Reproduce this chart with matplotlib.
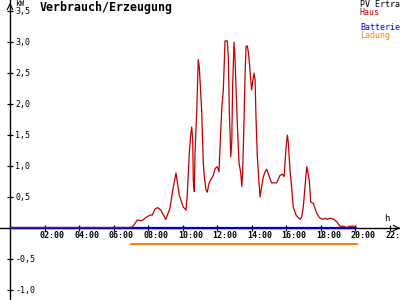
import matplotlib
matplotlib.use('Agg')
import matplotlib.pyplot as plt

# Hausverbrauch (kW) ueber die Uhrzeit (h)
haus_zeit = [0.0, 6.9, 7.10, 7.37, 7.63, 7.87, 8.11, 8.24, 8.40, 8.55, 8.73, 9.02, 9.26,
             9.42, 9.61, 9.80, 10.03, 10.19, 10.26, 10.38, 10.46, 10.52, 10.58, 10.61,
             10.67, 10.71, 10.81, 10.87, 10.90, 10.96, 11.00, 11.10, 11.19, 11.25, 11.35,
             11.42, 11.52, 11.64, 11.77, 11.87, 12.00, 12.10, 12.16, 12.26, 12.35, 12.45,
             12.58, 12.64, 12.70, 12.74, 12.78, 12.84, 12.89, 12.97, 13.03, 13.09, 13.16,
             13.26, 13.36, 13.42, 13.47, 13.55, 13.61, 13.67, 13.74, 13.80, 13.86, 13.94,
             13.99, 14.05, 14.13, 14.19, 14.24, 14.32, 14.42, 14.48, 14.57, 14.67, 14.77,
             14.86, 15.01, 15.15, 15.44, 15.63, 15.77, 15.87, 15.98, 16.06, 16.11, 16.21,
             16.31, 16.40, 16.56, 16.79, 16.89, 16.98, 17.08, 17.18, 17.24, 17.33, 17.41,
             17.56, 17.66, 17.76, 17.91, 18.11, 18.24, 18.37, 18.53, 18.76, 18.92, 19.11,
             19.30, 19.50, 19.65, 19.98, 20.09]
haus = [0.01, 0.01, 0.02, 0.13, 0.12, 0.17, 0.21, 0.21, 0.31, 0.33, 0.29, 0.14, 0.32,
        0.61, 0.89, 0.53, 0.34, 0.29, 0.53, 1.21, 1.50, 1.63, 1.42, 0.77,
        0.59, 1.21, 1.88, 2.44, 2.72, 2.60, 2.39, 1.88, 1.04, 0.83, 0.61,
        0.58, 0.72, 0.79, 0.85, 0.96, 0.99, 0.91, 1.31, 1.93, 2.23, 3.02,
        3.02, 2.74, 1.85, 1.53, 1.15, 1.40, 2.30, 3.00, 2.71, 2.23, 1.69,
        1.05, 0.89, 0.67, 0.91, 1.74, 2.50, 2.93, 2.94, 2.84, 2.66, 2.39,
        2.23, 2.36, 2.50, 2.39, 1.80, 1.15, 0.72, 0.50, 0.67, 0.83, 0.91,
        0.95, 0.83, 0.73, 0.73, 0.85, 0.87, 0.83, 1.29, 1.50, 1.39, 0.94,
        0.64, 0.34, 0.21, 0.14, 0.18, 0.34, 0.67, 0.99, 0.91, 0.77, 0.42,
        0.40, 0.32, 0.24, 0.17, 0.14, 0.16, 0.14, 0.16, 0.14, 0.10, 0.03,
        0.03, 0.01, 0.03, 0.03, 0.0]

batt_zeit = [0.0, 20.1]
batterie = [0.0, 0.0]
ladung_zeit = [6.95, 20.13]
ladung = [-0.26, -0.26]

x_ticks = [2, 4, 6, 8, 10, 12, 14, 16, 18, 20, 22]
x_labels = ['02:00', '04:00', '06:00', '08:00', '10:00', '12:00', '14:00',
            '16:00', '18:00', '20:00', '22:00']
y_ticks = [3.5, 3.0, 2.5, 2.0, 1.5, 1.0, 0.5, -0.5, -1.0]
y_labels = ['3,5', '3,0', '2,5', '2,0', '1,5', '1,0', '0,5', '-0,5', '-1,0']

legende = [('PV Ertrag', 'black'), ('Haus', '#c00000'), ('', 'white'),
           ('Batterie', '#0000ff'), ('Ladung', '#ff8000')]

plt.rcParams['font.family'] = ['DejaVu Sans Mono']

fig = plt.figure(figsize=(4, 3), dpi=100)
ax = fig.add_axes([0, 0, 1, 1])
ax.set_xlim(-0.58, 22.58)
ax.set_ylim(-1.16, 3.68)

# Achsen im Nullpunkt
for s in ['top', 'right']:
    ax.spines[s].set_visible(False)
ax.spines['left'].set_position(('data', 0))
ax.spines['bottom'].set_position(('data', 0))
ax.spines['left'].set_linewidth(1.0)
ax.spines['bottom'].set_linewidth(1.0)
ax.set_xticks(x_ticks)
ax.set_yticks(y_ticks)
ax.tick_params(direction='inout', length=4.5, width=0.9, labelleft=False, labelbottom=False)

# Pfeile an den Achsenenden
ax.annotate('', xy=(0, 3.68), xytext=(0, 3.55),
            arrowprops=dict(arrowstyle='->', lw=0.8, color='black'))
ax.annotate('', xy=(22.58, 0), xytext=(22.3, 0),
            arrowprops=dict(arrowstyle='->', lw=0.8, color='black'))

for t, l in zip(x_ticks, x_labels):
    ax.text(t - 0.28, -0.12, l, fontsize=6, fontweight='bold', ha='left', va='center')
for t, l in zip(y_ticks, y_labels):
    ax.text(0.3, t, l, fontsize=6, ha='left', va='center')
ax.text(0.3, 3.63, 'kW', fontsize=5.5, ha='left', va='center')
ax.text(21.8, 0.15, 'h', fontsize=6.5, ha='center', va='center')

ax.plot(batt_zeit, batterie, color='#0000c0', lw=1.6, solid_capstyle='butt', zorder=3)
ax.plot(ladung_zeit, ladung, color='#ff8000', lw=1.4, solid_capstyle='butt', zorder=3)
ax.plot(haus_zeit, haus, color='#c00000', lw=0.9, zorder=4)

fig.text(0.1, 0.975, 'Verbrauch/Erzeugung', fontsize=8.4, fontweight='bold',
         ha='left', va='center')
zeilen_y = [0.985, 0.958, 0.932, 0.908, 0.882]
for (txt, c), yy in zip(legende, zeilen_y):
    fig.text(0.9, yy, txt, fontsize=6, color=c, ha='left', va='center')

fig.savefig('out.png', dpi=100)
